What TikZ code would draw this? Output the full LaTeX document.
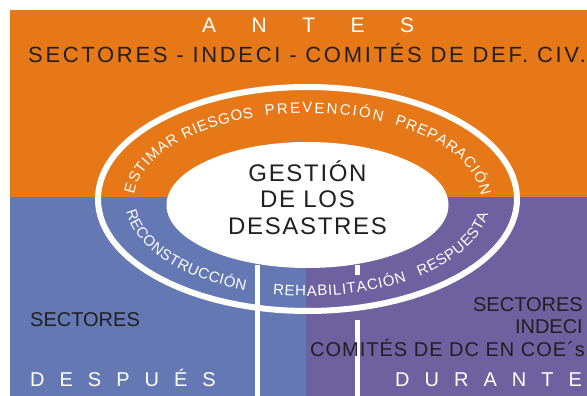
\documentclass[tikz,border=0pt]{standalone}
\usepackage{fontspec}
\setmainfont{Liberation Sans}
\usetikzlibrary{decorations.text}
\definecolor{antesorange}{HTML}{E77817}
\definecolor{despuesblue}{HTML}{6479B4}
\definecolor{durantepurple}{HTML}{6D619F}
\definecolor{textdark}{HTML}{231F20}
\newcommand{\ringfont}{\fontsize{15}{15}\selectfont}
\tikzstyle{darklabel}=[text=textdark, inner sep=0, font=\fontsize{20}{20}\selectfont]
\tikzstyle{phaseword}=[text=white, inner sep=0, font=\fontsize{20}{20}\selectfont\addfontfeature{LetterSpace=75}]
\tikzstyle{corelabel}=[text=textdark, inner sep=0, font=\fontsize{24}{24}\selectfont\addfontfeature{LetterSpace=7}]
\tikzset{ringtext/.style={decorate, decoration={text along path, text align={fit to path}, text={|\ringfont\color{white}|#1}}}}

\begin{document}
\begin{tikzpicture}[x=1pt, y=1pt]
\useasboundingbox (0,0) rectangle (587,396);
\fill[white] (0,0) rectangle (587,396);

% the three phases
\fill[antesorange]   (10,199) rectangle (587,386);
\fill[despuesblue]   (10,0)   rectangle (306,199);
\fill[durantepurple] (306,0)  rectangle (587,199);

% ring and core
\coordinate (c) at (307.5,194);
\draw[white, line width=6pt] (307.5,197) ellipse [x radius=209.5, y radius=112];
\fill[white] (307.5,191) ellipse [x radius=141, y radius=63];

% separators below the core
\fill[white] (255,0)   rectangle (260,131);
\fill[white] (355,121) rectangle (360,131);
\fill[white] (355,0)   rectangle (360,76);

% texts in the ring
\path[ringtext={ESTIMAR RIESGOS}] ([shift={(175:174 and 89)}]c) arc[start angle=175, end angle=108, x radius=174, y radius=89];
\path[ringtext={PREVENCIÓN}]      ([shift={(104:174 and 89)}]c) arc[start angle=104, end angle=64.5, x radius=174, y radius=89];
\path[ringtext={PREPARACIÓN}]     ([shift={(60:174 and 89)}]c)  arc[start angle=60, end angle=4, x radius=174, y radius=89];
\path[ringtext={RECONSTRUCCIÓN}]  ([shift={(186:182 and 94)}]c) arc[start angle=186, end angle=250, x radius=182, y radius=94];
\path[ringtext={REHABILITACIÓN}]  ([shift={(259:182 and 94)}]c) arc[start angle=259, end angle=303, x radius=182, y radius=94];
\path[ringtext={RESPUESTA}]       ([shift={(308:182 and 94)}]c) arc[start angle=308, end angle=353, x radius=182, y radius=94];

% core
\node [corelabel, anchor=base] (gestion)   at (307.5,214) {GESTIÓN};
\node [corelabel, anchor=base] (delos)     at (307.5,188) {DE LOS};
\node [corelabel, anchor=base] (desastres) at (307.5,161) {DESASTRES};

% antes
\node [text=white, inner sep=0, anchor=base west, font=\fontsize{21}{21}\selectfont\addfontfeature{LetterSpace=169}] (antes) at (202,363) {ANTES};
\node [darklabel, anchor=base west, font=\fontsize{22}{22}\selectfont\addfontfeature{LetterSpace=12.2}] (antesactors) at (28,333) {SECTORES - INDECI - COMITÉS DE DEF. CIV.};

% despues
\node [darklabel, anchor=base west] (despuesactors) at (30,69) {SECTORES};
\node [phaseword, anchor=base west] (despues) at (30,9) {DESPUÉS};

% durante
\node [darklabel, anchor=base east] (duranteone)   at (583,84) {SECTORES};
\node [darklabel, anchor=base east] (durantetwo)   at (583,62) {INDECI};
\node [darklabel, anchor=base west, font=\fontsize{20}{20}\selectfont\addfontfeature{LetterSpace=5}] (durantethree) at (310,39) {COMITÉS DE DC EN COE´s};
\node [phaseword, anchor=base west] (durante) at (395,9) {DURANTE};

\end{tikzpicture}
\end{document}
